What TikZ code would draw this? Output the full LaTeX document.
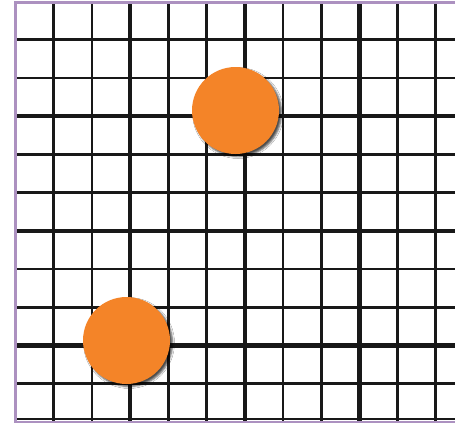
\documentclass[tikz,border=0pt]{standalone}
\usetikzlibrary{shadows.blur}
\definecolor{dotorange}{RGB}{244,132,40}
\definecolor{frameviolet}{RGB}{172,145,192}
\definecolor{gridink}{RGB}{24,24,24}
\tikzset{
  thinline/.style={draw=gridink, line width=2.8pt},
  thickline/.style={draw=gridink, line width=4.4pt},
  dot/.style={circle, fill=dotorange, minimum size=87pt, inner sep=0pt,
    blur shadow={shadow xshift=2.5pt, shadow yshift=-2.5pt, shadow opacity=70, shadow blur radius=2pt}},
  frame/.style={draw=frameviolet, line width=2.6pt}
}
\begin{document}
\begin{tikzpicture}[x=1pt,y=-1pt]
\useasboundingbox (0,0) rectangle (455,424);
\fill[white] (0,0) rectangle (455,424);
\def\s{38.2}
\begin{scope}
\clip (15.5,1.5) rectangle (455,421.5);
\foreach \i in {1,2,4,5,7,8,10,11} {
  \draw[thinline] (15.5+\i*\s,0) -- (15.5+\i*\s,424);
}
\foreach \i in {3,6,9} {
  \draw[thickline] (15.5+\i*\s,0) -- (15.5+\i*\s,424);
}
\foreach \j in {1,2,4,5,7,8,10} {
  \draw[thinline] (0,1.5+\j*\s) -- (455,1.5+\j*\s);
}
\foreach \j in {3,6,9} {
  \draw[thickline] (0,1.5+\j*\s) -- (455,1.5+\j*\s);
}
\draw[thinline] (0,419) -- (455,419);
\end{scope}
\draw[frame] (456,2.5) -- (15.5,2.5) -- (15.5,421.8) -- (456,421.8);
\node[dot] (upper) at (235.5,110.5) {};
\node[dot] (lower) at (126.5,340.5) {};
\end{tikzpicture}
\end{document}
